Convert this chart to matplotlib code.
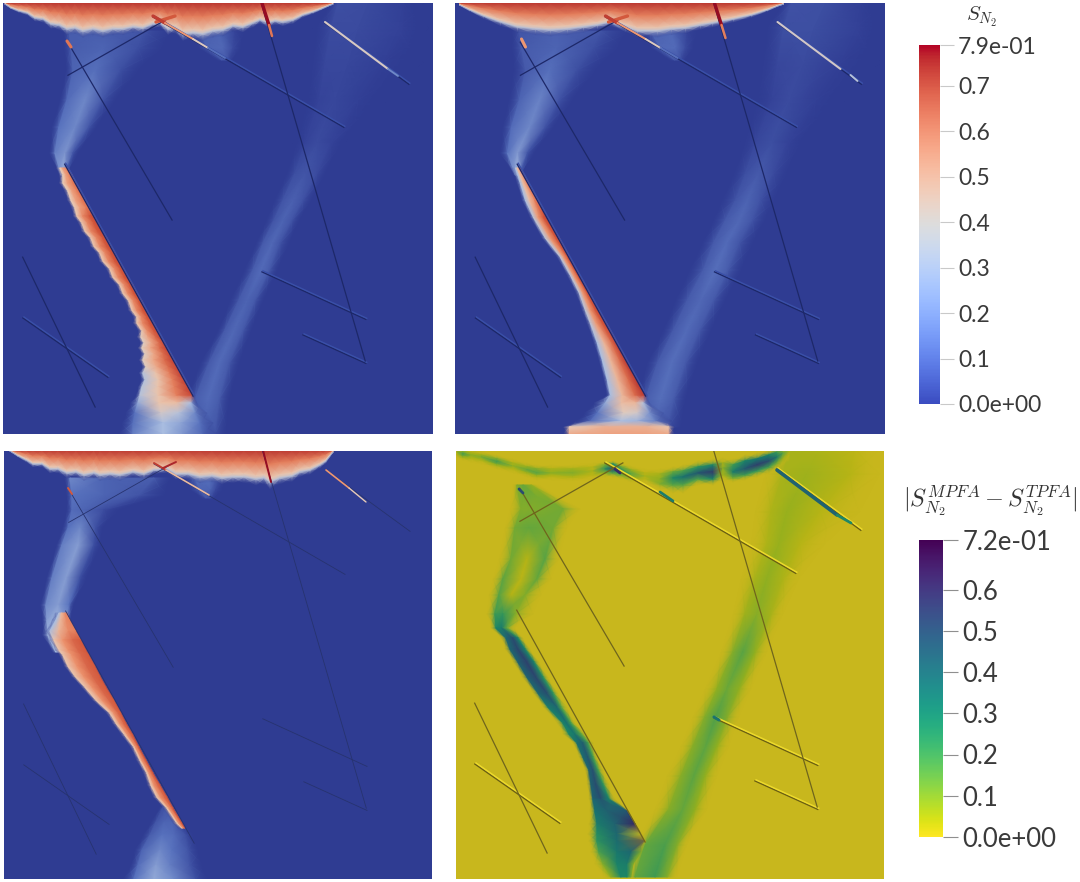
import numpy as np
import matplotlib
matplotlib.use("Agg")
import matplotlib.pyplot as plt
from matplotlib.colors import LinearSegmentedColormap, Normalize
from matplotlib.cm import ScalarMappable

plt.rcParams['font.family'] = ['Lato', 'DejaVu Sans']
plt.rcParams['mathtext.fontset'] = 'cm'

W, H = 1080, 882

# fractures, x0 y0 x1 y1 in panel pixels
thick_fractures = [(150, 13, 342, 124), (322, 19, 407, 81), (259, 268, 364, 316),
                   (300, 331, 364, 360), (20, 314, 106, 374)]
long_fracture = [(62, 160, 191, 393)]
thin_fractures = [(65, 72, 169, 13), (65, 38, 170, 217), (259, 0, 363, 358), (20, 253, 93, 404)]

# top cap of each saturation panel: column x and lower edge y
tl_cap_x = [2, 8, 16, 24, 32, 40, 48, 56, 64, 72, 80, 90, 100, 110, 120, 130, 140, 150, 157, 165, 172, 180, 190, 200,
            210, 220, 230, 240, 250, 257, 265, 272, 280, 290, 300, 310, 318, 325, 330]
tl_cap_edge = [1, 5, 8, 10, 15, 16, 21, 22, 26, 25, 28, 26, 28, 26, 26, 24, 25, 21, 20, 26, 25, 31, 30, 31,
               28, 27, 23, 24, 20, 17, 20, 18, 19, 17, 12, 9, 6, 3, 1]
tr_cap_x = [4, 14, 28, 45, 62, 80, 95, 112, 128, 142, 155, 170, 182, 202, 216, 230, 245, 257, 278, 296, 312, 322, 328]
tr_cap_edge = [2, 7, 13, 19, 24, 26, 27, 26, 24, 22, 19, 24, 28, 28, 26, 25, 22, 20, 16, 12, 7, 3, 1]
bl_cap_x = [6, 14, 22, 29, 38, 46, 54, 63, 72, 80, 90, 96, 106, 116, 129, 140, 150, 163, 172, 184, 196, 208, 218, 229,
            240, 252, 260, 266, 276, 288, 296, 306, 316, 322, 329]
bl_cap_edge = [1, 6, 10, 14, 14, 19, 19, 23, 22, 25, 23, 25, 24, 25, 22, 24, 20, 19, 24, 24, 27, 26, 28, 27,
               27, 29, 28, 32, 28, 26, 22, 20, 15, 11, 2]
cap_depth = [0, .45, .88, 1, 1.22]
cap_levels = [.73, .6, .42, .33, 0]

# long plume beside the fracture: row y, jagged left edge, fracture x
tl_main_y = [165, 172, 180, 188, 197, 205, 213, 220, 228, 235, 243, 250, 258, 266, 274, 282, 290, 298, 307, 314, 320,
             328, 334, 340, 345, 351, 357, 364, 370, 377, 384, 392]
tl_main_left = [57, 60, 60, 65, 68, 72, 74, 79, 82, 88, 91, 97, 100, 107, 110, 117, 120, 126, 129, 134, 134,
                139, 138, 141, 139, 142, 140, 143, 140, 142, 139, 137]
tl_main_fr = [65, 69, 73, 77, 82, 87, 91, 95, 99, 104, 108, 112, 116, 121, 125, 130, 134, 139, 143, 147, 151,
              155, 158, 162, 164, 168, 171, 175, 178, 182, 186, 190]
tl_main_v = [[0, .4, .52, .6, .66, 0]] * 6 + [[0, .42, .58, .68, .71, 0]] * 16 + [[0, .38, .5, .64, .72, 0]] * 6 \
    + [[0, .32, .42, .6, .72, 0]] * 4
tr_main_y = [165, 180, 197, 214, 235, 254, 274, 290, 307, 320, 340, 357, 377, 392]
tr_main_left = [60, 65, 70, 78, 90, 105, 116, 124, 130, 135, 142, 147, 152, 155]
tr_main_fr = [65, 73, 82, 91, 104, 114, 125, 134, 143, 151, 162, 171, 182, 190]
tr_main_v = [[0, .3, .44, .58, .66, 0]] * 3 + [[0, .33, .54, .68, .72, 0]] * 7 + [[0, .3, .46, .64, .74, 0]] * 4
bl_main_y = [163, 170, 181, 190, 200, 205, 216, 226, 237, 250, 263, 273, 285, 297, 310, 323, 335, 347, 358, 373, 378]
bl_main_left = [55, 52, 46, 50, 55, 59, 64, 71, 81, 92, 106, 112, 121, 130, 136, 143, 147, 153, 163, 173, 178]
bl_main_fr = [63, 66, 72, 77, 82, 85, 91, 96, 102, 110, 117, 122, 129, 135, 142, 149, 156, 163, 169, 178, 181]
bl_main_v = [[0, .3, .46, .58, .6, 0]] * 3 + [[0, .42, .56, .65, .68, 0]] * 18

# blue haze rows: y, then x and value across the row
tl_left_y = [28, 45, 67, 97, 124, 150, 172]
tl_left_x = [[60, 66, 100, 140, 175], [60, 68, 100, 135, 165], [62, 70, 92, 118, 140], [56, 64, 82, 100, 115],
             [48, 56, 72, 86, 95], [46, 52, 62, 70, 76], [56, 58, 60, 62, 64]]
tl_left_v = [[0, .1, .1, .08, 0], [0, .1, .12, .06, 0], [0, .12, .15, .06, 0], [0, .14, .2, .08, 0],
             [0, .16, .2, .08, 0], [0, .18, .22, .08, 0], [0, .24, .28, .1, 0]]
tl_right_y = [431, 396, 360, 327, 297, 267, 240, 217, 197, 170, 140, 97, 60, 25, 0]
tl_right_x = [[170, 185, 200, 212, 225], [182, 192, 205, 216, 228], [196, 206, 216, 226, 238], [214, 222, 231, 240, 250],
              [226, 236, 244, 252, 262], [240, 250, 258, 266, 276], [252, 260, 269, 277, 288], [262, 271, 280, 289, 298],
              [270, 280, 290, 300, 310], [282, 292, 302, 314, 325], [290, 302, 314, 328, 342], [300, 316, 332, 355, 385],
              [305, 322, 345, 380, 420], [310, 328, 355, 395, 425], [325, 335, 365, 400, 420]]
tl_right_v = [[0, .06, .1, .08, 0], [0, .1, .14, .1, 0], [0, .09, .14, .09, 0], [0, .09, .13, .09, 0], [0, .09, .12, .09, 0],
              [0, .1, .14, .1, 0], [0, .09, .13, .08, 0], [0, .08, .12, .08, 0], [0, .08, .11, .07, 0],
              [0, .06, .08, .05, 0], [0, .03, .05, .03, 0], [0, .03, .04, .02, 0], [0, .04, .04, .02, 0],
              [0, .05, .05, .03, 0], [0, .06, .05, .02, 0]]
tl_under_y = [28, 45, 57]
tl_under_x = [[185, 195, 215, 232, 245], [195, 205, 220, 230, 240], [212, 219, 224, 227, 231]]
tl_under_v = [[0, .1, .12, .03, 0], [0, .12, .13, .05, 0], [0, .08, .08, .03, 0]]
tl_tail_y = [392, 400, 410, 420, 431]
tl_tail_x = [[133, 137, 156, 175, 188, 192], [127, 135, 156, 174, 188, 194], [122, 132, 158, 176, 192, 204],
             [118, 130, 160, 178, 197, 210], [115, 130, 160, 180, 200, 214]]
tl_tail_v = [[0, .32, .42, .6, .7, 0], [0, .26, .42, .44, .3, 0], [0, .16, .36, .32, .2, 0],
             [0, .15, .3, .25, .16, 0], [0, .18, .3, .22, .12, 0]]

tr_left_y = [28, 45, 67, 97, 124, 150, 172]
tr_left_x = [[55, 64, 100, 145, 178], [55, 66, 100, 138, 168], [56, 70, 94, 122, 145], [52, 64, 84, 104, 120],
             [46, 56, 74, 90, 100], [44, 52, 62, 72, 80], [58, 60, 62, 64, 66]]
tr_left_v = [[0, .08, .11, .08, 0], [0, .09, .12, .06, 0], [0, .09, .15, .06, 0], [0, .12, .19, .07, 0],
             [0, .14, .2, .07, 0], [0, .16, .23, .08, 0], [0, .24, .3, .1, 0]]
tr_right_y = [424, 396, 360, 327, 297, 267, 240, 217, 197, 170, 140, 97, 60, 25, 0]
tr_right_x = [[168, 182, 198, 212, 228], [180, 190, 205, 218, 232], [190, 202, 216, 230, 244], [206, 218, 231, 244, 258],
              [218, 232, 245, 258, 272], [232, 248, 260, 272, 288], [245, 258, 271, 284, 300], [256, 270, 284, 297, 312],
              [264, 280, 292, 305, 322], [276, 290, 303, 318, 335], [285, 300, 316, 332, 350], [296, 316, 334, 360, 390],
              [302, 322, 348, 385, 425], [308, 328, 358, 400, 428], [325, 336, 370, 405, 425]]
tr_right_v = [[0, .06, .1, .08, 0], [0, .1, .15, .1, 0], [0, .09, .15, .09, 0], [0, .09, .14, .09, 0], [0, .09, .13, .09, 0],
              [0, .1, .15, .1, 0], [0, .09, .14, .08, 0], [0, .09, .13, .08, 0], [0, .08, .12, .07, 0],
              [0, .06, .09, .05, 0], [0, .04, .06, .03, 0], [0, .03, .05, .02, 0], [0, .04, .05, .02, 0],
              [0, .06, .06, .03, 0], [0, .07, .06, .02, 0]]
tr_under_y = [28, 45, 57]
tr_under_x = [[185, 195, 215, 232, 245], [195, 205, 220, 230, 240], [212, 219, 224, 227, 231]]
tr_under_v = [[0, .11, .13, .03, 0], [0, .13, .14, .05, 0], [0, .08, .08, .03, 0]]
tr_tail_y = [392, 400, 410, 418, 424, 431]
tr_tail_x = [[151, 155, 167, 180, 188, 192], [138, 150, 166, 180, 188, 194], [128, 142, 168, 182, 194, 208],
             [120, 135, 165, 182, 200, 216], [108, 114, 150, 190, 213, 219], [108, 114, 150, 190, 213, 219]]
tr_tail_v = [[0, .3, .46, .64, .72, 0], [0, .26, .44, .46, .32, 0], [0, .16, .38, .36, .22, 0], [0, .14, .3, .28, .18, 0],
             [0, .4, .48, .48, .42, 0], [0, .5, .52, .52, .5, 0]]

bl_left_y = [28, 45, 60, 78, 95, 128, 155, 170, 185, 202]
bl_left_x = [[60, 66, 100, 150, 170], [62, 68, 100, 135, 165], [62, 68, 80, 100, 118], [58, 64, 76, 92, 100],
             [52, 58, 74, 90, 98], [42, 48, 62, 76, 84], [36, 42, 54, 65, 70], [38, 43, 52, 62, 67],
             [38, 44, 50, 58, 64], [48, 52, 56, 60, 64]]
bl_left_v = [[0, .2, .12, .1, 0], [0, .16, .12, .08, 0], [0, .14, .12, .05, 0], [0, .16, .2, .06, 0],
             [0, .18, .24, .06, 0], [0, .18, .24, .06, 0], [0, .2, .24, .16, 0], [0, .24, .28, .22, 0],
             [0, .28, .3, .3, 0], [0, .3, .32, .3, 0]]
bl_under_y = [26, 40, 48]
bl_under_x = [[178, 190, 205, 216, 224], [186, 196, 206, 212, 220], [196, 202, 206, 209, 212]]
bl_under_v = [[0, .14, .16, .06, 0], [0, .12, .12, .04, 0], [0, .08, .06, .02, 0]]
bl_tail_y = [357, 372, 385, 400, 415, 429]
bl_tail_x = [[155, 159, 162, 164, 167, 170], [146, 152, 160, 168, 174, 180], [138, 146, 158, 170, 182, 190],
             [130, 138, 156, 168, 184, 196], [126, 134, 152, 166, 186, 200], [118, 130, 150, 170, 192, 206]]
bl_tail_v = [[0, .06, .08, .06, 0, 0], [0, .08, .12, .12, .05, 0], [0, .1, .16, .14, .06, 0],
             [0, .12, .2, .16, .08, 0], [0, .14, .24, .18, .08, 0], [0, .16, .26, .2, .06, 0]]

# difference panel: rows (left plume, wedge, right band) then columns for the top arc
br_left_y = [36, 60, 79, 110, 130, 146, 165, 179, 189, 200, 213, 228, 244, 258, 274, 285, 294, 308, 321, 335, 350]
br_left_x = [[58, 62, 68, 76, 84], [55, 66, 74, 108, 125], [50, 60, 74, 98, 112], [44, 56, 72, 90, 104],
             [38, 48, 66, 82, 96], [34, 44, 56, 70, 86], [32, 40, 48, 60, 78], [36, 41, 47, 52, 60],
             [46, 51, 58, 63, 68], [50, 55, 63, 70, 75], [58, 63, 72, 79, 84], [67, 72, 81, 88, 93],
             [78, 83, 92, 98, 103], [88, 93, 102, 106, 112], [102, 108, 112, 116, 120], [108, 114, 120, 126, 131],
             [118, 122, 128, 133, 138], [124, 128, 133, 138, 142], [130, 134, 138, 143, 148], [132, 136, 141, 148, 154],
             [134, 138, 146, 154, 160]]
br_left_v = [[0, .1, .14, .08, 0], [0, .1, .1, .12, 0], [0, .12, .14, .12, 0], [0, .12, .03, .16, 0],
             [0, .15, .02, .14, 0], [0, .16, .03, .1, 0], [0, .2, .22, .1, 0], [0, .28, .32, .14, 0],
             [0, .4, .5, .3, 0], [0, .4, .52, .3, 0], [0, .42, .54, .3, 0], [0, .42, .52, .26, 0],
             [0, .4, .5, .24, 0], [0, .32, .4, .18, 0], [0, .3, .36, .2, 0], [0, .28, .34, .16, 0],
             [0, .36, .44, .2, 0], [0, .38, .46, .2, 0], [0, .42, .48, .2, 0], [0, .42, .5, .24, 0], [0, .42, .5, .3, 0]]
br_wedge_y = [350, 362, 375, 385, 392, 403, 415, 428]
br_wedge_x = [[134, 138, 146, 154, 160], [135, 140, 152, 172, 174], [134, 142, 160, 180, 181], [133, 142, 162, 186, 187],
              [134, 142, 162, 189, 191], [136, 144, 162, 176, 186], [140, 148, 162, 172, 178], [148, 156, 166, 172, 176]]
br_wedge_v = [[0, .4, .46, .3, 0], [0, .36, .42, .46, 0], [0, .32, .42, .62, 0], [0, .26, .4, .72, 0],
              [0, .24, .38, .68, 0], [0, .18, .34, .4, .1], [0, .1, .3, .32, .1], [0, .08, .28, .28, .1]]
br_right_y = [428, 396, 360, 327, 297, 268, 240, 203, 165, 130, 95, 63, 25, 0]
br_right_x = [[172, 180, 200, 212, 222], [180, 190, 210, 222, 232], [200, 214, 228, 240, 252], [212, 226, 239, 250, 262],
              [226, 238, 251, 262, 274], [238, 250, 261, 272, 284], [250, 262, 272, 284, 296], [266, 278, 288, 300, 312],
              [278, 290, 302, 316, 328], [286, 300, 312, 328, 344], [296, 312, 324, 345, 370], [300, 316, 332, 365, 405],
              [310, 328, 352, 395, 425], [325, 335, 365, 400, 425]]
br_right_v = [[0, .14, .2, .1, 0], [0, .14, .18, .1, 0], [0, .09, .14, .08, 0], [0, .09, .15, .08, 0],
              [0, .09, .15, .08, 0], [0, .1, .17, .1, 0], [0, .08, .13, .08, 0], [0, .1, .16, .08, 0],
              [0, .06, .09, .05, 0], [0, .05, .08, .04, 0], [0, .04, .07, .03, 0], [0, .04, .07, .03, 0],
              [0, .05, .06, .03, 0], [0, .05, .04, .02, 0]]
br_arc_x = [2, 8, 16, 26, 42, 58, 72, 82, 96, 118, 138, 150, 158, 166, 176, 190, 205, 218, 228, 243, 258, 268, 278, 290, 302,
            314, 322, 328, 334]
br_arc_y = [[0, 1, 3, 6, 9], [0, 2, 5, 8, 11], [0, 4, 6, 9, 13], [2, 6, 8, 11, 15], [6, 10, 13, 16, 20], [10, 14, 17, 20, 24],
            [14, 18, 21, 24, 28], [16, 20, 24, 27, 31], [16, 20, 24, 27, 31], [16, 20, 24, 28, 32], [14, 18, 22, 26, 30],
            [12, 16, 20, 24, 28], [12, 15, 20, 24, 28], [14, 18, 22, 26, 30], [17, 21, 25, 29, 33], [20, 24, 27, 30, 34],
            [20, 25, 30, 35, 40], [18, 23, 29, 36, 44], [16, 22, 28, 36, 44], [12, 18, 24, 30, 36], [10, 16, 23, 30, 36],
            [9, 14, 19, 26, 32], [10, 16, 23, 29, 33], [6, 12, 20, 26, 31], [4, 10, 16, 22, 28], [1, 6, 12, 18, 24],
            [0, 3, 8, 14, 20], [0, 2, 4, 10, 16], [0, 1, 2, 6, 12]]
br_arc_v = [[0, .03, .06, .03, 0], [0, .08, .2, .08, 0], [0, .04, .08, .04, 0], [0, .06, .1, .04, 0], [0, .12, .2, .08, 0],
            [0, .04, .07, .03, 0], [0, .08, .14, .06, 0], [0, .1, .16, .06, 0], [0, .04, .08, .03, 0], [0, .06, .1, .04, 0],
            [0, .02, .04, .02, 0], [0, .12, .24, .08, 0], [0, .26, .5, .18, 0], [0, .14, .28, .12, 0], [0, .08, .16, .08, 0],
            [0, .02, .04, .02, 0], [0, .05, .08, .1, 0], [0, .14, .28, .16, 0], [0, .18, .36, .16, 0], [0, .24, .46, .18, 0],
            [0, .3, .56, .3, 0], [0, .04, .08, .05, 0], [0, .2, .32, .12, 0], [0, .3, .46, .2, 0], [0, .34, .55, .22, 0],
            [0, .3, .5, .2, 0], [0, .2, .34, .12, 0], [0, .08, .16, .06, 0], [0, .02, .04, .02, 0]]

# short stretches of fracture that carry a value, x0 y0 x1 y1 value width
tl_hot = [(153, 19, 172, 13, .68, 2.4), (150, 13, 162, 20, .72, 2.4), (259, 0, 266, 22, .79, 2.4), (266, 22, 269, 33, .62, 1.8),
          (162, 20, 190, 36, .55, 1.4), (190, 36, 205, 45, .38, 1.4), (205, 45, 222, 55, .15, 1.4),
          (322, 19, 385, 66, .37, 1.5), (385, 66, 395, 73, .2, 1.4), (64, 38, 68, 44, .62, 2.2)]
tr_hot = [(153, 19, 172, 13, .68, 2.4), (150, 13, 162, 20, .72, 2.4), (259, 0, 266, 22, .79, 2.4), (266, 22, 270, 35, .6, 1.8),
          (162, 20, 190, 36, .55, 1.4), (190, 36, 205, 45, .38, 1.4), (205, 45, 222, 55, .15, 1.4),
          (322, 19, 385, 66, .36, 1.5), (395, 72, 402, 78, .32, 1.4), (66, 36, 70, 44, .55, 2.2)]
bl_hot = [(150, 13, 162, 20, .72, 1.4), (159, 18, 172, 12, .75, 1.4), (259, 0, 267, 32, .79, 1.4),
          (162, 20, 205, 45, .45, 1.2), (322, 20, 345, 38, .55, 1.2), (345, 38, 362, 52, .4, 1), (64, 38, 68, 44, .68, 1.4)]
br_hot = [(322, 21, 382, 66, .42, 2.6), (382, 66, 396, 74, .28, 2), (205, 43, 218, 52, .32, 2), (160, 20, 165, 24, .6, 2),
          (64, 40, 68, 44, .5, 2), (259, 268, 264, 271, .35, 2.2)]

sat_ticks = [0, .1, .2, .3, .4, .5, .6, .7, .79]
sat_labels = ['0.0e+00', '0.1', '0.2', '0.3', '0.4', '0.5', '0.6', '0.7', '7.9e-01']
diff_ticks = [0, .1, .2, .3, .4, .5, .6, .72]
diff_labels = ['0.0e+00', '0.1', '0.2', '0.3', '0.4', '0.5', '0.6', '7.2e-01']

# field colours are darker than the bars, the render was lit. value 0 fades out so plumes can overlap
bg = (47, 60, 146)
field_nodes = [(0, bg, 0), (.03, (52, 66, 152), 1), (.2, (88, 114, 190), 1), (.38, (170, 190, 225), 1), (.5, (232, 205, 185), 1),
               (.7, (238, 150, 112), 1), (.88, (208, 82, 56), 1), (1, (150, 12, 34), 1)]
sat_field = LinearSegmentedColormap.from_list('sat', [(p, (c[0] / 255, c[1] / 255, c[2] / 255, a)) for p, c, a in field_nodes])
vir = plt.get_cmap('viridis_r')
diff_nodes = [(p, tuple(np.array(vir(p)[:3]) * .79) + (min(1, p / .03),)) for p in [0, .03, .1, .2, .3, .4, .5, .6, .7, .8, .9, 1]]
diff_field = LinearSegmentedColormap.from_list('dif', diff_nodes)

sat_norm = Normalize(0, .79)
diff_norm = Normalize(0, .72)


def panel_axes(fig, x0, y0, x1, y1, color, ox=0, oy=0):
    ax = fig.add_axes([x0 / W, 1 - y1 / H, (x1 - x0) / W, (y1 - y0) / H], facecolor=color)
    ax.set_xlim(ox, ox + x1 - x0)
    ax.set_ylim(oy + y1 - y0, oy)
    ax.set_xticks([])
    ax.set_yticks([])
    for s in ax.spines.values():
        s.set_visible(False)
    return ax


def rows(ax, y, x, v, cmap, norm):
    x = np.array(x, dtype=float)
    yy = np.repeat(np.array(y, dtype=float)[:, None], x.shape[1], axis=1)
    ax.pcolormesh(x, yy, np.array(v, dtype=float), shading='gouraud', cmap=cmap, norm=norm)


def columns(ax, x, y, v, cmap, norm):
    y = np.array(y, dtype=float)
    xx = np.repeat(np.array(x, dtype=float)[:, None], y.shape[1], axis=1)
    ax.pcolormesh(xx, y, np.array(v, dtype=float), shading='gouraud', cmap=cmap, norm=norm)


def draw_cap(ax, x, edge):
    y = np.outer(edge, cap_depth)
    columns(ax, x, y, [cap_levels] * len(x), sat_field, sat_norm)


def draw_main(ax, y, left, fr, v):
    left = np.array(left, dtype=float)
    fr = np.array(fr, dtype=float)
    x = np.column_stack([left - 4, left, (2 * left + fr) / 3, (left + 2 * fr) / 3 + 1, fr, fr + .3])
    rows(ax, y, x, v, sat_field, sat_norm)


def draw_two_tone(ax, segs, dark, light, lw):
    for x0, y0, x1, y1 in segs:
        ax.plot([x0 - .6, x1 - .6], [y0 + .6, y1 + .6], color=dark, lw=lw, solid_capstyle='butt')
        if light is not None:
            ax.plot([x0 + .4, x1 + .4], [y0 - .4, y1 - .4], color=light, lw=lw, solid_capstyle='butt')


def draw_hot(ax, hot, cmap, norm):
    for x0, y0, x1, y1, v, w in hot:
        ax.plot([x0, x1], [y0, y1], color=cmap(norm(v)), lw=w, solid_capstyle='round')


fig = plt.figure(figsize=(W / 100, H / 100), dpi=100, facecolor='white')
sat_bg = sat_field(0.0)[:3]
diff_bg = diff_field(0.0)[:3]

ax1 = panel_axes(fig, 3, 3, 433, 434, sat_bg)
rows(ax1, tl_right_y, tl_right_x, tl_right_v, sat_field, sat_norm)
rows(ax1, tl_left_y, tl_left_x, tl_left_v, sat_field, sat_norm)
rows(ax1, tl_under_y, tl_under_x, tl_under_v, sat_field, sat_norm)
rows(ax1, tl_tail_y, tl_tail_x, tl_tail_v, sat_field, sat_norm)
draw_main(ax1, tl_main_y, tl_main_left, tl_main_fr, tl_main_v)
draw_cap(ax1, tl_cap_x, tl_cap_edge)
draw_two_tone(ax1, thick_fractures + long_fracture, '#1d2869', '#3a50a8', 1.0)
draw_two_tone(ax1, thin_fractures, '#1d2869', None, .9)
draw_hot(ax1, tl_hot, sat_field, sat_norm)

ax2 = panel_axes(fig, 455, 3, 885, 434, sat_bg, ox=-.5)
rows(ax2, tr_right_y, tr_right_x, tr_right_v, sat_field, sat_norm)
rows(ax2, tr_left_y, tr_left_x, tr_left_v, sat_field, sat_norm)
rows(ax2, tr_under_y, tr_under_x, tr_under_v, sat_field, sat_norm)
rows(ax2, tr_tail_y, tr_tail_x, tr_tail_v, sat_field, sat_norm)
draw_main(ax2, tr_main_y, tr_main_left, tr_main_fr, tr_main_v)
draw_cap(ax2, tr_cap_x, tr_cap_edge)
draw_two_tone(ax2, thick_fractures + long_fracture, '#1d2869', '#3a50a8', 1.0)
draw_two_tone(ax2, thin_fractures, '#1d2869', None, .9)
draw_hot(ax2, tr_hot, sat_field, sat_norm)

ax3 = panel_axes(fig, 4, 451, 432, 879, sat_bg, oy=1)
rows(ax3, bl_left_y, bl_left_x, bl_left_v, sat_field, sat_norm)
rows(ax3, bl_under_y, bl_under_x, bl_under_v, sat_field, sat_norm)
rows(ax3, bl_tail_y, bl_tail_x, bl_tail_v, sat_field, sat_norm)
draw_main(ax3, bl_main_y, bl_main_left, bl_main_fr, bl_main_v)
draw_cap(ax3, bl_cap_x, bl_cap_edge)
draw_two_tone(ax3, thick_fractures + long_fracture + thin_fractures, '#27336f', None, .6)
draw_hot(ax3, bl_hot, sat_field, sat_norm)

ax4 = panel_axes(fig, 456, 451, 884, 879, diff_bg, ox=1, oy=2)
rows(ax4, br_right_y, br_right_x, br_right_v, diff_field, diff_norm)
rows(ax4, br_left_y, br_left_x, br_left_v, diff_field, diff_norm)
rows(ax4, br_wedge_y, br_wedge_x, br_wedge_v, diff_field, diff_norm)
columns(ax4, br_arc_x, br_arc_y, br_arc_v, diff_field, diff_norm)
draw_two_tone(ax4, thick_fractures, '#6a5f12', '#ecd92c', 1.1)
draw_two_tone(ax4, thin_fractures + long_fracture, '#6f651c', None, .9)
draw_hot(ax4, br_hot, diff_field, diff_norm)

# colour bars
cax1 = fig.add_axes([919 / W, 1 - 404 / H, 21 / W, 359 / H])
cb1 = fig.colorbar(ScalarMappable(norm=sat_norm, cmap='coolwarm'), cax=cax1)
cb1.set_ticks(sat_ticks, labels=sat_labels)
cax2 = fig.add_axes([919 / W, 1 - 837 / H, 24 / W, 297 / H])
cb2 = fig.colorbar(ScalarMappable(norm=diff_norm, cmap='viridis_r'), cax=cax2)
cb2.set_ticks(diff_ticks, labels=diff_labels)
for cb, tick_col, tick_len, size in [(cb1, '#c9c9c9', 10, 16.5), (cb2, '#8f8f8f', 11, 18.5)]:
    cb.outline.set_visible(False)
    cb.ax.tick_params(length=tick_len, width=.8, color=tick_col, labelsize=size, labelcolor='#3a3a3a', pad=3)

fig.text(982 / W, 1 - 17 / H, r'$S_{N_2}$', fontsize=15, color='#333333', ha='center', va='center')
fig.text(990 / W, 1 - 501 / H, r'$|S_{N_2}^{MPFA} - S_{N_2}^{TPFA}|$', fontsize=17.5, color='#333333',
         ha='center', va='center')

fig.savefig('out.png', dpi=100, facecolor='white')
